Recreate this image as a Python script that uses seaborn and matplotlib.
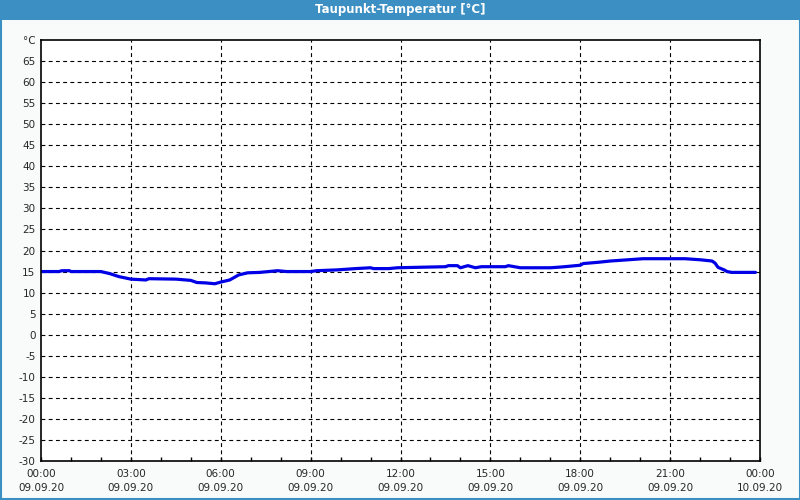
import matplotlib
matplotlib.use("Agg")
import matplotlib.pyplot as plt
import seaborn as sns
import pandas as pd
from matplotlib.patches import Rectangle
from matplotlib.lines import Line2D

# ---- data ----
hours = [0.0, 0.6, 0.7, 0.95, 1.0, 1.5, 2.0, 2.3, 2.6, 3.0, 3.5, 3.6, 4.5, 5.0, 5.2,
         5.5, 5.8, 6.0, 6.3, 6.6, 6.9, 7.3, 7.9, 8.2, 9.0, 9.2, 9.9, 10.5, 11.0, 11.1,
         11.6, 11.9, 13.5, 13.6, 13.9, 14.0, 14.25, 14.5, 14.7, 15.5, 15.6, 16.0,
         17.0, 17.4, 18.0, 18.1, 18.6, 19.0, 19.4, 19.6, 20.1, 21.5, 22.0, 22.4,
         22.5, 22.6, 22.8, 22.9, 23.05, 23.85]
values = [15.0, 15.0, 15.2, 15.2, 15.0, 15.0, 15.0, 14.5, 13.8, 13.2, 13.0, 13.3,
          13.2, 12.9, 12.4, 12.3, 12.1, 12.5, 13.0, 14.2, 14.7, 14.8, 15.2, 15.0,
          15.0, 15.2, 15.4, 15.7, 15.9, 15.7, 15.7, 15.9, 16.15, 16.4, 16.4, 15.9,
          16.4, 15.9, 16.15, 16.15, 16.4, 15.9, 15.9, 16.1, 16.5, 16.9, 17.2, 17.5,
          17.7, 17.8, 18.05, 18.05, 17.8, 17.5, 17.0, 16.0, 15.4, 15.0, 14.8, 14.8]
x_ticks = [0, 3, 6, 9, 12, 15, 18, 21, 24]
x_tick_labels = ["00:00\n09.09.20", "03:00\n09.09.20", "06:00\n09.09.20",
                 "09:00\n09.09.20", "12:00\n09.09.20", "15:00\n09.09.20",
                 "18:00\n09.09.20", "21:00\n09.09.20", "00:00\n10.09.20"]
y_ticks = list(range(-30, 75, 5))
y_tick_labels = [str(v) for v in range(-30, 70, 5)] + ["°C"]
title = "Taupunkt-Temperatur [°C]"

df = pd.DataFrame({"hour": hours, "value": values})

sns.set_style("white")
plt.rcParams["font.family"] = ["DejaVu Sans"]

bg = "#F8FBFA"
blue_bar = "#3C8FC3"

fig = plt.figure(figsize=(8, 5), dpi=100, facecolor=bg)

# title bar and window border
fig.patches.append(Rectangle((0, 1 - 20 / 500), 1, 20 / 500, transform=fig.transFigure,
                             facecolor=blue_bar, edgecolor="none", zorder=0))
for (x0, y0, x1, y1) in [(0.5 / 800, 0, 0.5 / 800, 1), (1 - 0.5 / 800, 0, 1 - 0.5 / 800, 1),
                         (0, 1 / 500, 1, 1 / 500)]:
    fig.lines.append(Line2D([x0, x1], [y0, y1], transform=fig.transFigure,
                            color=blue_bar, lw=1.5))
fig.text(0.5, 1 - 10 / 500, title, ha="center", va="center", color="white",
         fontsize=8.5, fontweight="bold")

ax = fig.add_axes([41 / 800, 1 - 461 / 500, 719 / 800, 421 / 500])
ax.set_facecolor("white")

sns.lineplot(data=df, x="hour", y="value", ax=ax, color="#0000E6", lw=2.3,
             legend=False)

ax.set_xlim(0, 24)
ax.set_ylim(-30, 70)
ax.set_xlabel("")
ax.set_ylabel("")

ax.set_xticks(x_ticks)
ax.set_xticklabels(x_tick_labels, fontsize=7.5, linespacing=1.5)
ax.set_xticks(range(0, 25), minor=True)
ax.set_yticks(y_ticks)
ax.set_yticklabels(y_tick_labels, fontsize=7.5)

ax.tick_params(axis="x", which="both", direction="in", length=3, width=1, color="black",
               pad=6, bottom=True)
ax.tick_params(axis="y", which="both", length=0, pad=4)

for s in ax.spines.values():
    s.set_visible(True)
    s.set_color("black")
    s.set_linewidth(1.2)

dash = (0, (3.5, 3.0))
for h in x_ticks[1:-1]:
    ax.axvline(h, color="black", lw=0.8, linestyle=dash, zorder=0.5)
for v in y_ticks[1:-1]:
    ax.axhline(v, color="black", lw=0.8, linestyle=dash, zorder=0.5)

fig.savefig("out.png", dpi=100, facecolor=bg)
